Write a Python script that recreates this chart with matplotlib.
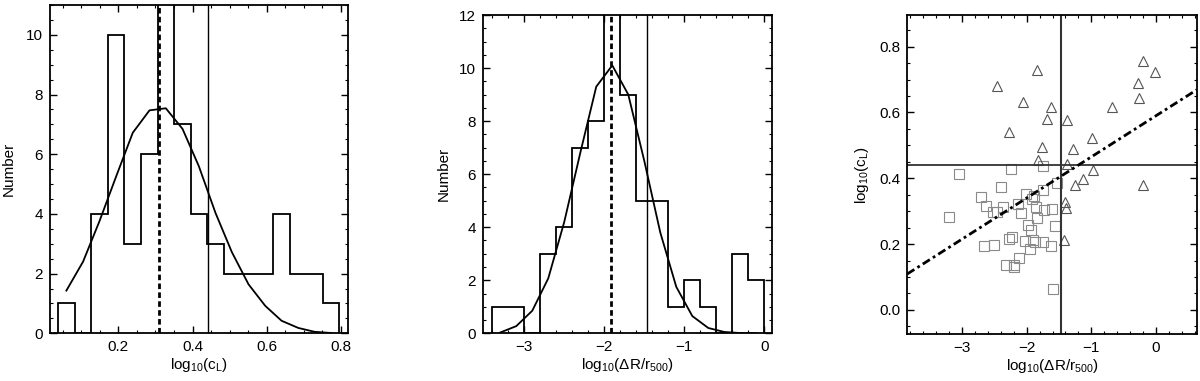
import matplotlib
matplotlib.use("Agg")
import matplotlib.pyplot as plt
from matplotlib.ticker import MultipleLocator

plt.rcParams["font.family"] = ["Liberation Sans", "DejaVu Sans"]
plt.rcParams["mathtext.default"] = "regular"
plt.rcParams["font.size"] = 11

# panel 1: histogram of log10(c_L)
cl_edges = [0.038, 0.083, 0.127, 0.172, 0.216, 0.261, 0.306, 0.350, 0.395,
            0.439, 0.484, 0.529, 0.573, 0.618, 0.662, 0.707, 0.752, 0.796]
cl_counts = [1, 0, 4, 10, 3, 6, 13, 7, 4, 3, 2, 2, 2, 4, 2, 2, 1]
cl_fit_x = [0.060, 0.105, 0.149, 0.194, 0.239, 0.284, 0.328, 0.373, 0.417,
            0.462, 0.506, 0.551, 0.596, 0.640, 0.685, 0.729, 0.774]
cl_fit_y = [1.43, 2.40, 3.75, 5.25, 6.72, 7.47, 7.54, 6.85, 5.6,
            4.03, 2.72, 1.64, 0.92, 0.42, 0.18, 0.05, 0.01]
cl_median = 0.310
cl_cut = 0.443

# panel 2: histogram of log10(dR/r500)
dr_edges = [-3.4, -3.2, -3.0, -2.8, -2.6, -2.4, -2.2, -2.0, -1.8, -1.6,
            -1.4, -1.2, -1.0, -0.8, -0.6, -0.4, -0.2, 0.0]
dr_counts = [1, 1, 0, 3, 4, 7, 8, 13, 9, 5, 5, 1, 2, 1, 0, 3, 2]
dr_fit_x = [-3.3, -3.1, -2.9, -2.7, -2.5, -2.3, -2.1, -1.9, -1.7, -1.5,
            -1.3, -1.1, -0.9, -0.7, -0.5, -0.3, -0.1]
dr_fit_y = [0.03, 0.27, 0.85, 2.07, 4.2, 6.8, 9.3, 10.1, 9.0, 6.5,
            3.8, 1.75, 0.65, 0.2, 0.05, 0.01, 0.0]
dr_median = -1.913
dr_cut = -1.465

# panel 3: scatter
sq_x = [-3.045, -3.204, -2.241, -1.751, -2.396, -2.705, -2.632, -2.514, -2.463,
        -2.370, -2.014, -2.128, -2.087, -1.921, -1.880, -1.741, -1.860, -1.731,
        -1.607, -1.844, -1.973, -1.937, -1.561, -2.231, -2.267, -2.025, -1.906,
        -1.875, -1.742, -1.947, -1.623, -2.654, -2.504, -2.117, -2.318, -2.195,
        -2.195, -1.597, -1.525]
sq_y = [0.412, 0.283, 0.429, 0.437, 0.372, 0.344, 0.317, 0.299, 0.299,
        0.314, 0.351, 0.322, 0.294, 0.336, 0.346, 0.365, 0.312, 0.304,
        0.307, 0.280, 0.258, 0.243, 0.255, 0.223, 0.215, 0.210, 0.213,
        0.207, 0.207, 0.184, 0.194, 0.194, 0.196, 0.159, 0.136, 0.138,
        0.130, 0.063, 0.387]
tri_x = [-2.463, -1.844, -2.050, -2.267, -1.618, -1.680, -1.370, -1.762,
         -1.824, -1.288, -1.381, -0.994, -0.979, -1.133, -1.247, -0.685,
         -0.206, -0.010, -0.273, -0.258, -0.196, -1.406, -1.390, -1.417]
tri_y = [0.680, 0.729, 0.631, 0.540, 0.618, 0.580, 0.577, 0.494,
         0.454, 0.490, 0.442, 0.523, 0.424, 0.397, 0.379, 0.616,
         0.756, 0.724, 0.689, 0.645, 0.380, 0.327, 0.309, 0.213]
fit_slope = 0.125
fit_icpt = 0.590


def style_axes(ax):
    for s in ax.spines.values():
        s.set_linewidth(1.3)
    ax.tick_params(which="both", direction="in", top=True, right=True,
                   labelsize=11, colors="black")
    ax.tick_params(which="major", length=5, width=1.0, pad=5)
    ax.tick_params(which="minor", length=2.5, width=0.8)


fig = plt.figure(figsize=(12, 3.81), dpi=100)

# ---- panel 1
ax1 = fig.add_axes([0.0417, 0.1252, 0.2486, 0.8617])
ax1.stairs(cl_counts, cl_edges, color="black", lw=1.3)
ax1.plot(cl_fit_x, cl_fit_y, color="black", lw=1.3)
ax1.axvline(cl_median, color="black", lw=2.0, ls=(0, (2.0, 1.2)))
ax1.axvline(cl_cut, color="black", lw=1.0)
ax1.set_xlim(0.016, 0.82)
ax1.set_ylim(0, 11)
ax1.xaxis.set_major_locator(MultipleLocator(0.2))
ax1.xaxis.set_minor_locator(MultipleLocator(0.05))
ax1.yaxis.set_major_locator(MultipleLocator(2))
ax1.yaxis.set_minor_locator(MultipleLocator(0.5))
ax1.set_xlabel(r"log$_{10}$(c$_{L}$)", labelpad=1)
ax1.set_ylabel("Number")
ax1.yaxis.set_label_coords(-0.115, 0.5)
style_axes(ax1)

# ---- panel 2
ax2 = fig.add_axes([0.4022, 0.1252, 0.2414, 0.8354])
ax2.stairs(dr_counts, dr_edges, color="black", lw=1.3)
ax2.plot(dr_fit_x, dr_fit_y, color="black", lw=1.3)
ax2.axvline(dr_median, color="black", lw=2.0, ls=(0, (2.0, 1.2)))
ax2.axvline(dr_cut, color="black", lw=1.0)
ax2.set_xlim(-3.52, 0.1)
ax2.set_ylim(0, 12)
ax2.xaxis.set_major_locator(MultipleLocator(1))
ax2.xaxis.set_minor_locator(MultipleLocator(0.2))
ax2.yaxis.set_major_locator(MultipleLocator(2))
ax2.yaxis.set_minor_locator(MultipleLocator(0.5))
ax2.set_xlabel(r"log$_{10}$($\Delta$R/r$_{500}$)", labelpad=1)
ax2.set_ylabel("Number")
ax2.yaxis.set_label_coords(-0.11, 0.5)
style_axes(ax2)

# ---- panel 3
ax3 = fig.add_axes([0.7561, 0.1226, 0.2412, 0.838])
ax3.set_xlim(-3.845, 0.63)
ax3.set_ylim(-0.074, 0.896)
ax3.plot(sq_x, sq_y, ls="none", marker="s", ms=6.5, mfc="none",
         mec="#8a8a8a", mew=0.8)
ax3.plot(tri_x, tri_y, ls="none", marker="^", ms=7, mfc="none",
         mec="#555555", mew=0.8)
ax3.axvline(dr_cut, color="#333333", lw=1.5)
ax3.axhline(0.44, color="#333333", lw=1.3)
xl = ax3.get_xlim()
ax3.plot(xl, [fit_icpt + fit_slope * v for v in xl], color="black", lw=2.0,
         ls=(0, (3.0, 1.3, 1.0, 1.3)))
ax3.set_xlim(xl)
ax3.xaxis.set_major_locator(MultipleLocator(1))
ax3.xaxis.set_minor_locator(MultipleLocator(0.2))
ax3.yaxis.set_major_locator(MultipleLocator(0.2))
ax3.yaxis.set_minor_locator(MultipleLocator(0.05))
ax3.set_xlabel(r"log$_{10}$($\Delta$R/r$_{500}$)", labelpad=1)
ax3.set_ylabel(r"log$_{10}$(c$_{L}$)")
ax3.yaxis.set_label_coords(-0.125, 0.5)
style_axes(ax3)

fig.savefig("out.png", dpi=100)
